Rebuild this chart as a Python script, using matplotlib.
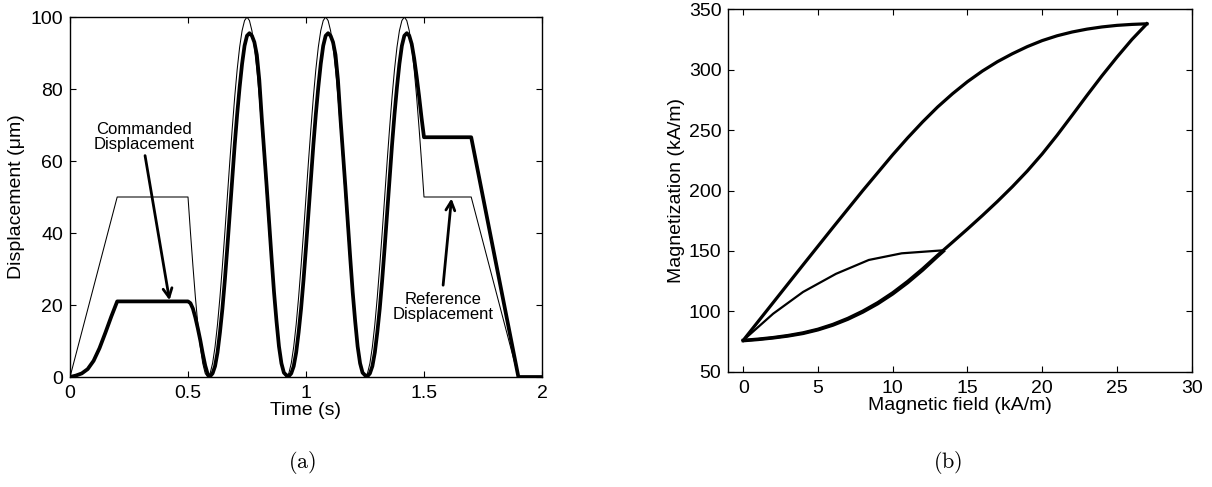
import numpy as np
import matplotlib
matplotlib.use("Agg")
import matplotlib.pyplot as plt

# ---------------- data: panel (a) ----------------
ramp_time = [0.0, 0.2]
ramp_ref = [0.0, 50.0]
cmd_ramp_time = [0.0, 0.025, 0.05, 0.075, 0.1, 0.125, 0.15, 0.175, 0.2]
cmd_ramp_vals = [0.0, 0.4, 1.0, 2.2, 4.5, 8.0, 12.3, 16.8, 21.0]

# sampling grid of the oscillating part, 0.5 s .. 1.5 s
osc_time = list(np.linspace(0.5, 1.5, 97))
osc_ref = [50, 40.2, 30.9, 22.2, 14.6, 8.4, 3.8, 1.0, 0,
           1.0, 3.8, 8.4, 14.6, 22.2, 30.9, 40.2, 50, 59.8, 69.1, 77.8, 85.4, 91.6, 96.2, 99.0, 100,
           99.0, 96.2, 91.6, 85.4, 77.8, 69.1, 59.8, 50, 40.2, 30.9, 22.2, 14.6, 8.4, 3.8, 1.0, 0,
           1.0, 3.8, 8.4, 14.6, 22.2, 30.9, 40.2, 50, 59.8, 69.1, 77.8, 85.4, 91.6, 96.2, 99.0, 100,
           99.0, 96.2, 91.6, 85.4, 77.8, 69.1, 59.8, 50, 40.2, 30.9, 22.2, 14.6, 8.4, 3.8, 1.0, 0,
           1.0, 3.8, 8.4, 14.6, 22.2, 30.9, 40.2, 50, 59.8, 69.1, 77.8, 85.4, 91.6, 96.2, 99.0, 100,
           99.0, 96.2, 91.6, 85.4, 77.8, 69.1, 59.8, 50]
osc_cmd = [21.0, 20.5, 19.0, 16.5, 13.5, 10.2, 6.5, 3.2, 0.8,
           0.2, 1.0, 3.0, 6.8, 12.4, 19.0, 27.0, 36.0, 45.5, 55.0, 64.5, 73.0, 80.5, 87.0, 92.0, 94.8,
           95.5, 94.8, 93.0, 89.5, 82.5, 72.0, 62.5, 53.0, 43.0, 33.0, 23.5, 15.5, 8.5, 3.8, 1.2, 0.5,
           0.2, 1.0, 3.0, 6.8, 12.4, 19.0, 27.0, 36.0, 45.5, 55.0, 64.5, 73.0, 80.5, 87.0, 92.0, 94.8,
           95.5, 94.8, 93.0, 89.5, 82.5, 72.0, 62.5, 53.0, 43.0, 33.0, 23.5, 15.5, 8.5, 3.8, 1.2, 0.5,
           0.2, 1.0, 3.0, 6.8, 12.4, 19.0, 27.0, 36.0, 45.5, 55.0, 64.5, 73.0, 80.5, 87.0, 92.0, 94.8,
           95.5, 94.8, 92.5, 88.5, 83.5, 78.0, 72.0, 66.6]
tail_time = [1.7, 1.9, 2.0]
tail_ref = [50.0, 0.0, 0.0]
tail_cmd = [66.6, 0.0, 0.0]

xticks_a = [0, 0.5, 1, 1.5, 2]
xticklabels_a = ["0", "0.5", "1", "1.5", "2"]
yticks_a = [0, 20, 40, 60, 80, 100]

# ---------------- data: panel (b) ----------------
lower_H = [0, 1, 2, 3, 4, 5, 6, 7, 8, 9, 10, 11, 12, 13, 14, 15, 16, 17, 18, 19, 20,
           21, 22, 23, 24, 25, 26, 27]
lower_M = [76, 77, 78.3, 80, 82.2, 85.2, 89.2, 94.2, 100.2, 107.2, 115.4, 124.8, 135.2,
           146.4, 157.2, 168.1, 179.3, 190.9, 203.1, 216.1, 230.3, 245.8, 262.2, 278.8,
           295.0, 310.4, 325.0, 338.0]
upper_H = [27, 26, 25, 24, 23, 22, 21, 20, 19, 18, 17, 16, 15, 14, 13, 12, 11, 10,
           8, 6, 4, 2, 0]
upper_M = [338.0, 337.5, 336.7, 335.4, 333.6, 331.2, 328.1, 324.1, 319.1, 313.2, 306.6,
           298.9, 290.1, 280.1, 269.1, 256.8, 243.6, 229.6, 200.0, 169.4, 138.4, 107.2, 76]
minor_H = [0, 2, 4, 6.2, 8.4, 10.6, 12.6, 13.4]
minor_M = [76, 98, 116, 131, 142.5, 148, 149.8, 150.5]
ret_H = [13.4, 13, 12, 11, 10, 9, 8, 7, 6, 5, 4, 3, 2, 1, 0]
ret_M = [149.8, 145.4, 134.0, 123.6, 114.3, 106.2, 99.3, 93.4, 88.5, 84.6, 81.6, 79.5,
         77.9, 76.6, 75.6]

xticks_b = [0, 5, 10, 15, 20, 25, 30]
yticks_b = [50, 100, 150, 200, 250, 300, 350]

# ---------------- figure ----------------
plt.rcParams['font.family'] = ['Liberation Sans', 'DejaVu Sans']
plt.rcParams['mathtext.fontset'] = 'cm'

fig = plt.figure(figsize=(12.12, 4.87), dpi=100)
W, H = 1212, 487

def style(ax):
    ax.tick_params(direction='in', length=4, width=0.8, top=True, right=True,
                   labelsize=14, pad=6, colors='black')
    for s in ax.spines.values():
        s.set_linewidth(1.0)

# panel (a)
axa = fig.add_axes([70 / W, 1 - 377 / H, 472 / W, 360 / H])
ref_t = ramp_time + osc_time + tail_time
ref_v = ramp_ref + osc_ref + tail_ref
cmd_t = cmd_ramp_time + osc_time + tail_time
cmd_v = cmd_ramp_vals + osc_cmd + tail_cmd
axa.plot(ref_t, ref_v, color='black', lw=0.75)
axa.plot(cmd_t, cmd_v, color='black', lw=2.7, solid_joinstyle='round')
axa.set_xlim(0, 2)
axa.set_ylim(0, 100)
axa.set_xticks(xticks_a)
axa.set_xticklabels(xticklabels_a)
axa.set_yticks(yticks_a)
style(axa)
axa.tick_params(axis='y', pad=5)
axa.set_xlabel("Time (s)", fontsize=14, labelpad=0)
axa.set_ylabel("Displacement (μm)", fontsize=14, labelpad=4)

axa.text(0.3155, 66.7, "Commanded\nDisplacement", ha='center', va='center',
         fontsize=12, linespacing=1.0)
axa.annotate("", xy=(0.4218, 21.3), xytext=(0.318, 61.5),
             arrowprops=dict(arrowstyle='->', lw=2.0, color='black',
                             mutation_scale=16, shrinkA=0, shrinkB=0))
axa.text(1.581, 19.5, "Reference\nDisplacement", ha='center', va='center',
         fontsize=12, linespacing=1.0)
axa.annotate("", xy=(1.6165, 49.6), xytext=(1.581, 25.5),
             arrowprops=dict(arrowstyle='->', lw=2.0, color='black',
                             mutation_scale=16, shrinkA=0, shrinkB=0))

# panel (b)
axb = fig.add_axes([728.3 / W, 1 - 371.7 / H, 463.4 / W, 362.4 / H])
axb.plot(lower_H, lower_M, color='black', lw=2.3, solid_joinstyle='round')
axb.plot(upper_H, upper_M, color='black', lw=2.3, solid_joinstyle='round')
axb.plot(minor_H, minor_M, color='black', lw=1.6, solid_joinstyle='round')
axb.plot(ret_H, ret_M, color='black', lw=2.3, solid_joinstyle='round')
axb.set_xlim(-1, 30)
axb.set_ylim(50, 350)
axb.set_xticks(xticks_b)
axb.set_yticks(yticks_b)
style(axb)
axb.tick_params(axis='y', pad=5)
axb.set_xlabel("Magnetic field (kA/m)", fontsize=14, labelpad=0)
axb.set_ylabel("Magnetization (kA/m)", fontsize=14, labelpad=3)

fig.text(302 / W, 1 - 463 / H, r"$\mathrm{(a)}$", ha='center', va='center', fontsize=16)
fig.text(948 / W, 1 - 463 / H, r"$\mathrm{(b)}$", ha='center', va='center', fontsize=16)

fig.savefig("out.png", dpi=100)
